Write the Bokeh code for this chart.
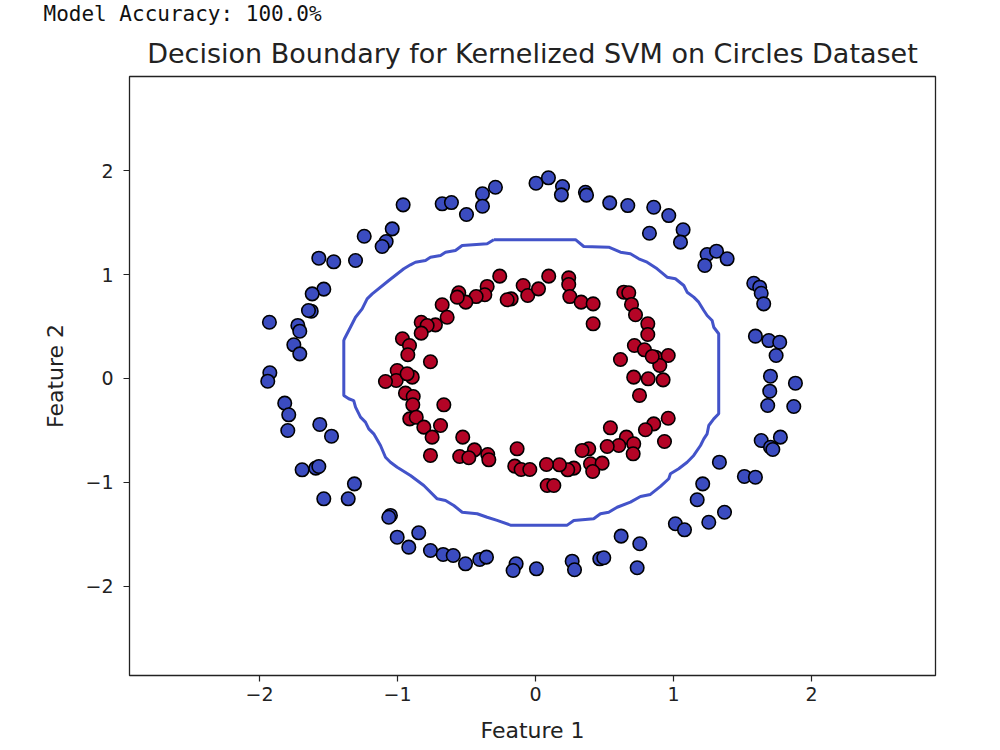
from bokeh.plotting import figure
from bokeh.models import Range1d, FixedTicker, Title, ColumnDataSource
from bokeh.embed import file_html
from bokeh.resources import INLINE

# ---- data: two concentric rings (class 0 = outer, class 1 = inner) ----
outer_x = [-0.959, -0.676, -0.609, -0.500, -0.384, -0.290, -0.384, 0.004,
           -1.241, -1.038, -1.082, -1.111, -1.570, -1.462, -1.304, -1.534,
           -1.618, -1.625, -1.645, -1.928, -1.722, -1.708, -1.751, -1.708,
           -1.925, -1.940, 0.094, 0.196, 0.188, 0.362, 0.370, 0.538,
           0.669, 0.857, 0.966, 0.826, 1.070, 1.051, 1.244, 1.312,
           1.389, 1.227, 1.582, 1.625, 1.636, 1.654, 1.594, 1.691,
           1.770, 1.744, 1.703, 1.884, -1.817, -1.788, -1.795, -1.563,
           -1.478, -1.691, -1.592, -1.570, -1.312, -1.534, -1.357, -1.051,
           -1.063, -1.002, -0.846, -0.918, -0.761, -0.669, -0.596, -0.507,
           -0.404, -0.355, -0.140, -0.162, 0.007, 1.698, 1.683, 1.872,
           1.636, 1.703, 1.720, 1.775, 1.333, 1.514, 1.594, 1.212,
           1.172, 1.370, 1.256, 1.014, 1.080, 0.621, 0.756, 0.466,
           0.495, 0.266, 0.283, 0.737]
outer_y = [1.670, 1.680, 1.692, 1.577, 1.776, 1.839, 1.657, 1.878,
           1.368, 1.439, 1.317, 1.269, 1.157, 1.122, 1.135, 0.859,
           0.814, 0.647, 0.654, 0.541, 0.510, 0.455, 0.324, 0.237,
           0.055, -0.026, 1.930, 1.846, 1.766, 1.791, 1.763, 1.689,
           1.663, 1.647, 1.567, 1.397, 1.430, 1.311, 1.192, 1.224,
           1.151, 1.087, 0.916, 0.878, 0.820, 0.718, 0.407, 0.365,
           0.349, 0.221, 0.022, -0.045, -0.237, -0.349, -0.500, -0.442,
           -0.555, -0.878, -0.862, -0.846, -1.013, -1.157, -1.157, -1.317,
           -1.334, -1.526, -1.484, -1.622, -1.654, -1.692, -1.702, -1.782,
           -1.740, -1.718, -1.782, -1.846, -1.830, -0.122, -0.260, -0.269,
           -0.596, -0.661, -0.683, -0.564, -0.805, -0.942, -0.949, -1.013,
           -1.166, -1.286, -1.382, -1.397, -1.455, -1.516, -1.589, -1.734,
           -1.724, -1.757, -1.839, -1.820]

inner_x = [-0.259, -0.350, -0.367, -0.430, -0.556, -0.505, -0.676, -0.640,
           -0.725, -0.828, -0.785, -0.828, -0.964, -0.913, -0.925, -0.761,
           -1.002, -0.893, -1.009, -1.087, -0.930, -0.176, -0.205, -0.089,
           -0.056, 0.022, 0.096, 0.241, 0.241, 0.249, 0.331, 0.418,
           0.418, 0.640, 0.676, 0.696, 0.725, 0.814, 0.814, 0.717,
           0.790, 0.870, 0.962, 0.901, 0.616, 0.712, 0.817, 0.925,
           -0.942, -0.886, -0.889, -0.664, -0.911, -0.864, -0.809, -0.688,
           -0.749, -0.761, -0.527, -0.442, -0.549, -0.483, -0.346, -0.338,
           -0.133, -0.150, -0.104, -0.041, 0.754, 0.962, 0.857, 0.797,
           0.935, 0.543, 0.659, 0.712, 0.708, 0.604, 0.520, 0.386,
           0.338, 0.399, 0.483, 0.415, 0.278, 0.234, 0.174, 0.080,
           0.085, 0.133, -0.567, 0.846]
inner_y = [0.984, 0.885, 0.805, 0.788, 0.824, 0.734, 0.709, 0.589,
           0.516, 0.541, 0.510, 0.436, 0.382, 0.317, 0.228, 0.161,
           0.077, 0.013, -0.019, -0.029, 0.045, 0.766, 0.757, 0.894,
           0.798, 0.862, 0.984, 0.968, 0.904, 0.788, 0.734, 0.718,
           0.526, 0.830, 0.824, 0.712, 0.613, 0.526, 0.423, 0.317,
           0.276, 0.205, 0.221, 0.125, 0.183, 0.013, -0.003, -0.013,
           -0.141, -0.173, -0.253, -0.253, -0.388, -0.372, -0.468, -0.452,
           -0.564, -0.740, -0.564, -0.686, -0.750, -0.762, -0.731, -0.782,
           -0.676, -0.843, -0.875, -0.875, -0.163, -0.382, -0.436, -0.493,
           -0.606, -0.474, -0.564, -0.628, -0.724, -0.644, -0.654, -0.676,
           -0.692, -0.820, -0.814, -0.894, -0.862, -0.878, -0.830, -0.827,
           -1.029, -1.029, 0.782, 0.212]

# zero level of the SVM decision function
boundary_x = [-0.302, 0.290, 0.350, 0.531, 0.616, 0.688, 0.749, 0.809,
              0.882, 0.954, 1.014, 1.075, 1.099, 1.147, 1.183, 1.220,
              1.244, 1.280, 1.292, 1.328, 1.328, 1.292, 1.256, 1.244,
              1.220, 1.196, 1.147, 1.099, 1.038, 0.978, 0.966, 0.906,
              0.833, 0.761, 0.688, 0.592, 0.531, 0.471, 0.422, 0.278,
              0.230, -0.181, -0.278, -0.350, -0.422, -0.531, -0.592, -0.652,
              -0.712, -0.809, -0.906, -1.002, -1.051, -1.087, -1.123, -1.172,
              -1.208, -1.232, -1.268, -1.304, -1.317, -1.353, -1.389, -1.389,
              -1.384, -1.341, -1.304, -1.256, -1.220, -1.183, -1.063, -0.954,
              -0.906, -0.870, -0.797, -0.761, -0.688, -0.652, -0.580, -0.531,
              -0.350, -0.302]
boundary_y = [1.335, 1.335, 1.269, 1.263, 1.214, 1.199, 1.151, 1.118,
              1.055, 0.974, 0.959, 0.894, 0.830, 0.782, 0.734, 0.654,
              0.606, 0.558, 0.493, 0.430, -0.339, -0.388, -0.452, -0.532,
              -0.580, -0.644, -0.740, -0.805, -0.868, -0.916, -0.964, -1.038,
              -1.115, -1.135, -1.189, -1.238, -1.286, -1.301, -1.349, -1.365,
              -1.410, -1.410, -1.365, -1.334, -1.301, -1.286, -1.221, -1.173,
              -1.157, -1.029, -0.933, -0.853, -0.805, -0.757, -0.644, -0.532,
              -0.484, -0.420, -0.372, -0.276, -0.212, -0.195, -0.163, 0.365,
              0.382, 0.493, 0.589, 0.670, 0.766, 0.814, 0.942, 1.055,
              1.093, 1.118, 1.135, 1.166, 1.183, 1.214, 1.231, 1.279,
              1.295, 1.335]

tick_values = [-2, -1, 0, 1, 2]
tick_labels = ["\u22122", "\u22121", "0", "1", "2"]

accuracy_text = "Model Accuracy: 100.0%"
title_text = "Decision Boundary for Kernelized SVM on Circles Dataset"
x_label = "Feature 1"
y_label = "Feature 2"

x_lo, x_hi = -2.942, 2.899
y_lo, y_hi = -2.856, 2.904

# ---- figure ----
p = figure(width=1000, height=750, output_backend="svg", toolbar_location=None,
           x_range=Range1d(x_lo, x_hi), y_range=Range1d(y_lo, y_hi),
           min_border_left=129, min_border_right=65,
           min_border_top=76, min_border_bottom=75)
p.background_fill_color = "white"
p.border_fill_color = "white"
p.outline_line_color = "#222222"
p.outline_line_width = 1.3
p.grid.visible = False

font = "DejaVu Sans"
overrides = {v: s for v, s in zip(tick_values, tick_labels)}
for ax in (p.xaxis[0], p.yaxis[0]):
    ax.ticker = FixedTicker(ticks=tick_values)
    ax.major_label_overrides = overrides
    ax.minor_tick_line_color = None
    ax.major_tick_in = 0
    ax.major_tick_out = 6
    ax.major_tick_line_color = "#222222"
    ax.major_tick_line_width = 1.2
    ax.axis_line_color = None
    ax.major_label_text_font = font
    ax.major_label_text_font_size = "19px"
    ax.major_label_text_color = "#222222"
    ax.axis_label_text_font = font
    ax.axis_label_text_font_size = "22px"
    ax.axis_label_text_font_style = "normal"
    ax.axis_label_text_color = "#222222"

p.xaxis.axis_label = x_label
p.yaxis.axis_label = y_label
p.xaxis.major_label_standoff = 5
p.xaxis.axis_label_standoff = 14
p.yaxis.major_label_standoff = 10
p.yaxis.axis_label_standoff = 14
p.yaxis.major_label_orientation = "horizontal"

# decision boundary
p.line(boundary_x, boundary_y, line_color="#4353c9", line_width=3)

# samples
src0 = ColumnDataSource(dict(x=outer_x, y=outer_y))
src1 = ColumnDataSource(dict(x=inner_x, y=inner_y))
p.scatter("x", "y", source=src0, size=13.5, fill_color="#3b4cc0",
          line_color="black", line_width=1.6)
p.scatter("x", "y", source=src1, size=13.5, fill_color="#b40426",
          line_color="black", line_width=1.6)

# headings: the first one added sits closest to the frame
p.add_layout(Title(text=title_text, align="center", standoff=16,
                   text_font=font, text_font_size="27px",
                   text_font_style="normal", text_color="#222222"), "above")
p.add_layout(Title(text=accuracy_text, align="left", offset=-86, standoff=0,
                   vertical_align="top",
                   text_font="DejaVu Sans Mono", text_font_size="21px",
                   text_font_style="normal", text_color="#111111"), "above")

open("out.html", "w").write(file_html(p, INLINE))
